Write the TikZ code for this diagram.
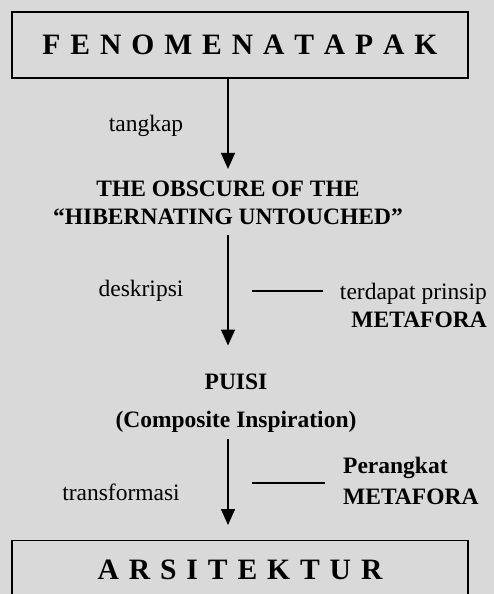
\documentclass[tikz,border=0pt]{standalone}
\usepackage{fontspec}
\setmainfont{Liberation Serif}
\usetikzlibrary{arrows.meta, positioning}
\newcommand\bigboxfont{\fontsize{29.6}{34}\selectfont\bfseries\spaceskip 9.9pt\relax}

\begin{document}
\begin{tikzpicture}[x=1pt, y=-1pt, >={Triangle[length=16pt,width=14pt]},
  font=\fontsize{23.5}{28}\selectfont,
  bigbox/.style={draw, line width=1.4pt, minimum width=456pt, minimum height=66pt, inner sep=0pt,
    font=\bigboxfont},
  lbl/.style={inner sep=0pt},
  flow/.style={->, line width=1.5pt},
  tie/.style={line width=1.2pt}]
  \definecolor{paper}{HTML}{D9D9D9}

  % Background
  \fill[paper] (0,0) rectangle (494,594);
  \useasboundingbox (0,0) rectangle (494,594);
  \clip (0,0) rectangle (494,594);

  % Define positions
  \node (tapak) [bigbox] at (240,45) {F E N O M E N A T A P A K};

  \node (tangkap) [lbl] at (146,126) {tangkap};

  \node (obscure) [lbl, align=center, font=\fontsize{23.5}{28}\selectfont\bfseries] at (228,203)
    {THE OBSCURE OF THE\\“HIBERNATING UNTOUCHED”};

  \node (deskripsi) [lbl] at (141,291) {deskripsi};
  \coordinate (tie1) at (252,291);
  \node (prinsip) [lbl, align=right, anchor=east] at (487,305)
    {terdapat prinsip\\\textbf{METAFORA}};

  \node (puisi) [lbl, align=center, font=\fontsize{23.5}{28}\selectfont\bfseries] at (236,403)
    {PUISI\\[10pt](Composite Inspiration)};

  \node (transformasi) [lbl] at (121,492) {transformasi};
  \coordinate (tie2) at (252,483);
  \node (perangkat) [lbl, align=left, anchor=west, font=\fontsize{23.5}{28}\selectfont\bfseries] at (343,481)
    {Perangkat\\[3pt]METAFORA};

  \node (arsitektur) [bigbox, minimum height=58pt, anchor=north] at (240,540) {A R S I T E K T U R};

  % Arrows
  \draw[flow, shorten >=12pt] (tapak.south -| obscure.north) -- (obscure.north);
  \draw[flow, shorten <=10pt, shorten >=28pt] (obscure.south) -- (obscure.south |- puisi.north);
  \draw[flow, shorten <=7pt, shorten >=15pt] (puisi.south -| obscure.south) -- (arsitektur.north -| obscure.south);

  % side links
  \draw[tie, shorten >=17pt] (tie1) -- (tie1 -| prinsip.west);
  \draw[tie, shorten >=18pt] (tie2) -- (tie2 -| perangkat.west);
\end{tikzpicture}
\end{document}
